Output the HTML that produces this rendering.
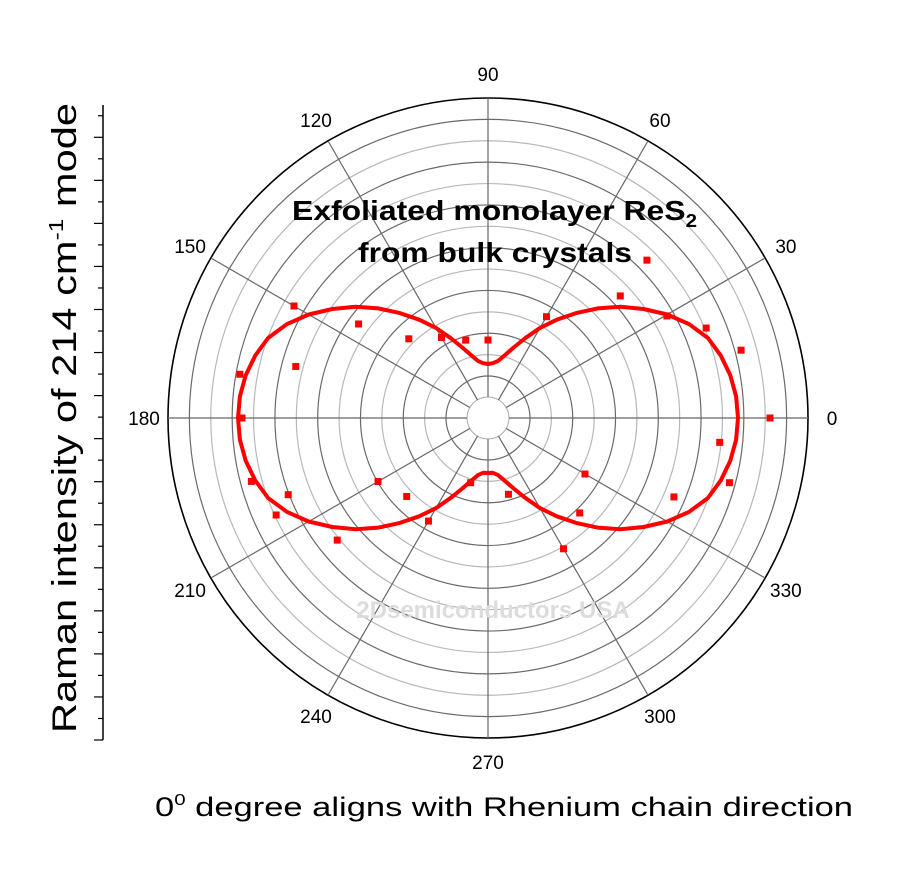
<!DOCTYPE html>
<html><head><meta charset="utf-8"><style>
html,body{margin:0;padding:0;background:#fff;}
svg{display:block;font-family:"Liberation Sans",sans-serif;}
</style></head><body>
<svg id="chart" width="897" height="879" viewBox="0 0 897 879">
<g id="grid"></g>
<g id="labels"></g>
<g id="yaxis"></g>
<text x="493" y="618" text-anchor="middle" font-size="24" font-weight="bold" fill="#dcdcdc">2Dsemiconductors USA</text>
<g id="series"></g>
<text x="292" y="220" font-size="28" font-weight="bold" textLength="405" lengthAdjust="spacingAndGlyphs">Exfoliated monolayer ReS<tspan font-size="18" dy="7">2</tspan></text>
<text x="358" y="262" font-size="28" font-weight="bold" textLength="274" lengthAdjust="spacingAndGlyphs">from bulk crystals</text>
<text x="155" y="816" font-size="27" textLength="698" lengthAdjust="spacingAndGlyphs">0<tspan font-size="16" dy="-11">0</tspan><tspan dy="11"> degree aligns with Rhenium chain direction</tspan></text>
<text transform="translate(76,418) rotate(-90)" text-anchor="middle" font-size="34" textLength="630" lengthAdjust="spacingAndGlyphs">Raman intensity of 214 cm<tspan font-size="20" dy="-13">-1</tspan><tspan dy="13"> mode</tspan></text>
</svg>
<script>
const angleTicks=[0,30,60,90,120,150,180,210,240,270,300,330];
const curveAngles=[0,5,10,15,20,25,30,35,40,45,50,55,60,65,70,75,80,85,90,95,100,105,110,115,120,125,130,135,140,145,150,155,160,165,170,175,180,185,190,195,200,205,210,215,220,225,230,235,240,245,250,255,260,265,270,275,280,285,290,295,300,305,310,315,320,325,330,335,340,345,350,355,360];
const curveValues=[250,249,246,241,234,222,207,190,173,155,137,120,104,88,75,65,58,55,54,55,58,65,75,88,104,120,137,155,173,190,207,222,234,241,246,249,250,249,246,241,234,222,207,190,173,155,137,120,104,88,75,65,58,55,55,55,58,65,75,88,104,120,137,155,173,190,207,222,234,241,246,249,250];
const pointAngles=[0,15,22.4,29.7,44.8,42.7,60,90,106,120,135,144,150,165,170,180,195,204.6,201,219,210,224,240,255,285,300,314,330,337,345,354];
const pointValues=[282,262,236,206,224,180,117,78,81,93,112,160,224,199,252,246,245,233,214,194,127,113,119,67,79,151,132,112,202,250,233];
const NS='http://www.w3.org/2000/svg';
const cx=488,cy=418,R=320,rInner=21;
function rScale(v){return v;}
function px(a,v){return cx+rScale(v)*Math.cos(a*Math.PI/180);}
function py(a,v){return cy-rScale(v)*Math.sin(a*Math.PI/180);}
function mk(tag,attrs,parent){const e=document.createElementNS(NS,tag);for(const k in attrs)e.setAttribute(k,attrs[k]);parent.appendChild(e);return e;}
const grid=document.getElementById('grid');
for(let i=0;i<14;i++){
  const r=42+i*(R-42)/13;
  const c=mk('circle',{cx:cx,cy:cy,r:r,fill:'none',stroke:i===13?'#000':(i%2===0?'#6a6a6a':'#b8b8b8'),'stroke-width':i===13?1.6:1.2},grid);
  
  
}
const ic=mk('circle',{cx:cx,cy:cy,r:rInner,fill:'#fff',stroke:'#aaa','stroke-width':1},grid);


const lab=document.getElementById('labels');
angleTicks.forEach(a=>{
  const l=mk('line',{x1:px(a,rInner),y1:py(a,rInner),x2:px(a,R),y2:py(a,R),stroke:'#666','stroke-width':1.2},grid);
  
  
  const t=mk('text',{x:px(a,344),y:py(a,344)+7,'text-anchor':'middle','font-size':19,fill:'#000'},lab);
  t.textContent=a;
  
  
});
const ya=document.getElementById('yaxis');
const al=mk('line',{x1:103,y1:105,x2:103,y2:740,stroke:'#000','stroke-width':1.5},ya);


for(let i=0;i<=29;i++){
  const y=740-i*(635/29.5);
  const tk=mk('line',{x1:i%2===0?94:98,y1:y,x2:103,y2:y,stroke:'#000','stroke-width':1.2},ya);
  
  
}
const ser=document.getElementById('series');
let d='';
curveAngles.forEach((a,i)=>{d+=(i?'L':'M')+px(a,curveValues[i]).toFixed(1)+','+py(a,curveValues[i]).toFixed(1);});
const p=mk('path',{d:d,fill:'none',stroke:'#f00','stroke-width':4,'stroke-linejoin':'round'},ser);


pointAngles.forEach((a,i)=>{
  const r=mk('rect',{x:px(a,pointValues[i])-3.5,y:py(a,pointValues[i])-3.5,width:7,height:7,fill:'#f00'},ser);
  
  
});
</script>
</body></html>
